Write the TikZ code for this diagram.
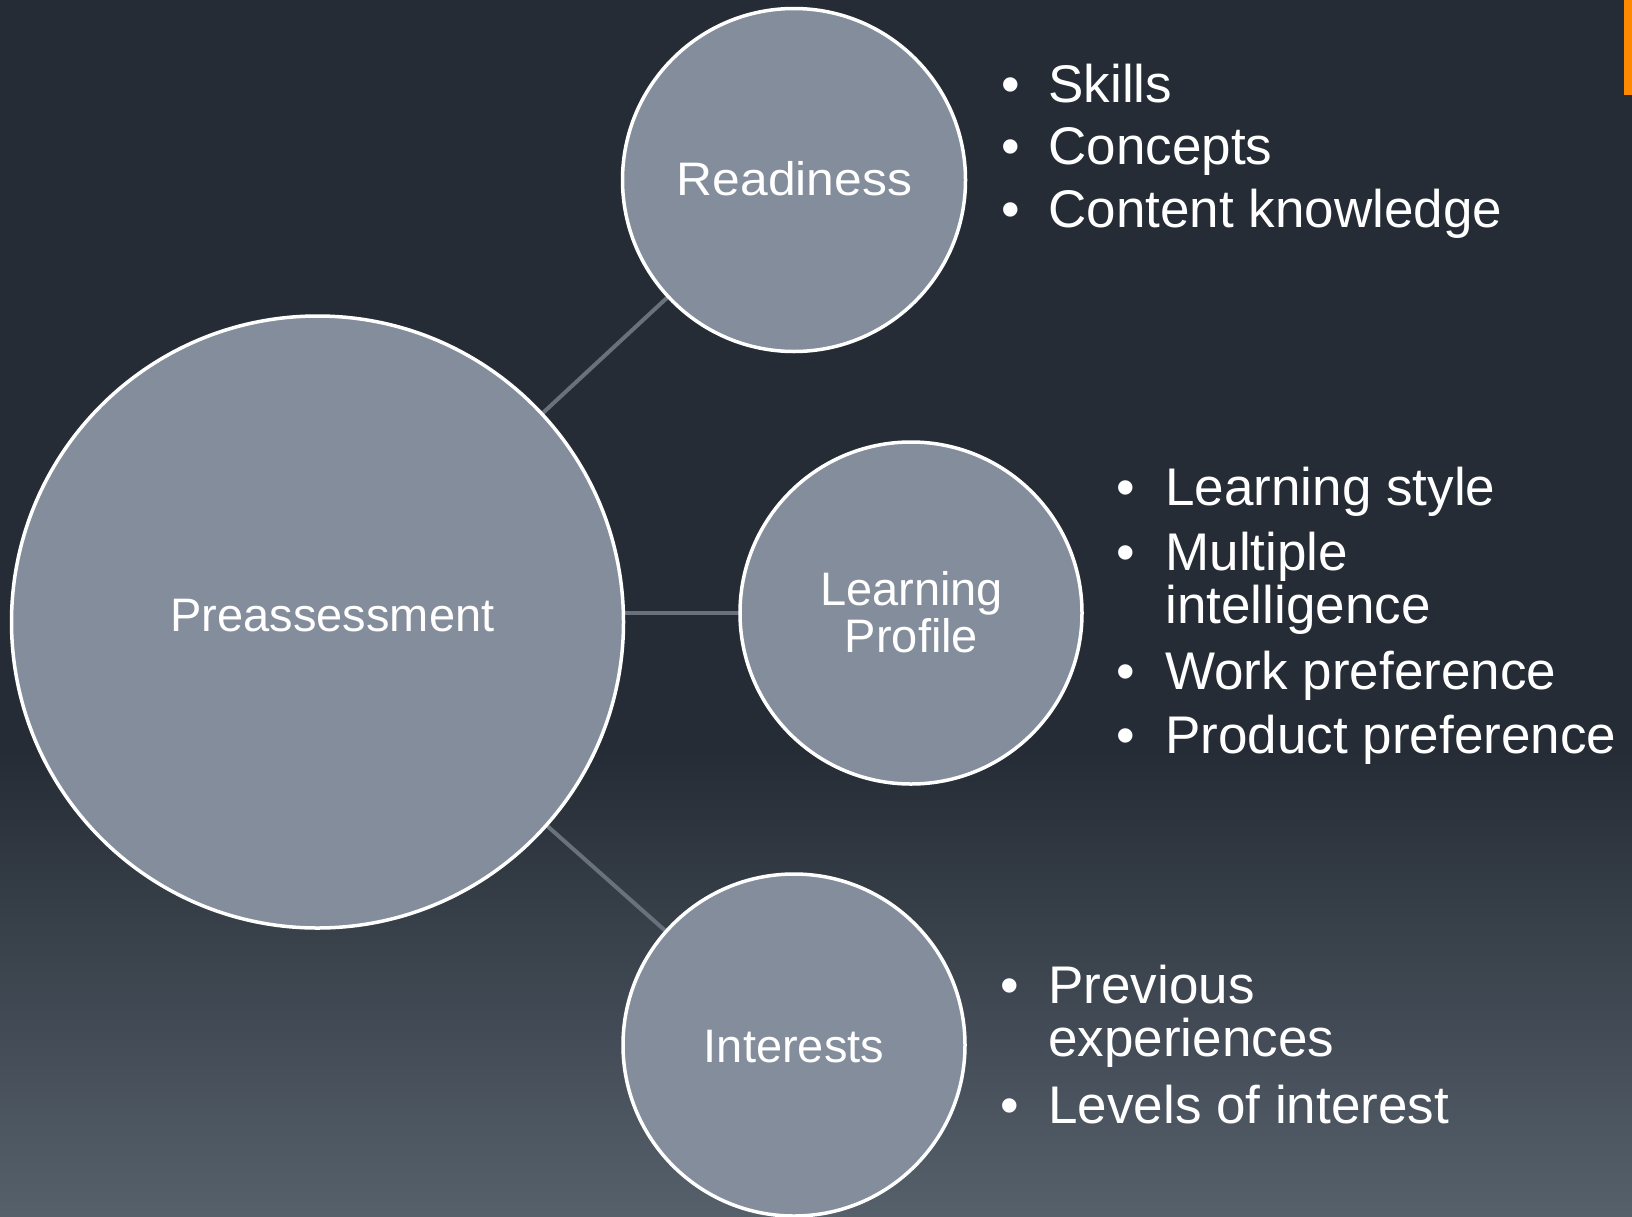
\documentclass[tikz,border=0pt]{standalone}
\usepackage{fontspec}
\setmainfont{Liberation Sans}
\usetikzlibrary{calc}
\definecolor{bgtop}{HTML}{252C35}
\definecolor{bgbot}{HTML}{56606B}
\definecolor{circfill}{HTML}{848D9B}
\definecolor{conn}{HTML}{69717C}
\definecolor{accent}{HTML}{FF8A00}
\pgfdeclarelayer{bg}
\pgfdeclarelayer{links}
\pgfsetlayers{bg,links,main}
\begin{document}
\begin{tikzpicture}[x=0.5pt,y=-0.5pt,
  bubble/.style={circle,draw=white,line width=1.75pt,fill=circfill,inner sep=0pt},
  link/.style={draw=conn,line width=2pt},
  clabel/.style={text=white,font=\fontsize{23.5}{22}\selectfont,anchor=base,inner sep=0pt},
  bitem/.style={text=white,font=\fontsize{26.5}{26.75}\selectfont,anchor=base west,inner sep=0pt},
  bdot/.style={text=white,font=\fontsize{26.5}{26.75}\selectfont,anchor=base,inner sep=0pt}]
\begin{pgfonlayer}{bg}
  \fill[bgtop] (0,0) rectangle (1632,1216);
  \shade[top color=bgtop,bottom color=bgbot] (0,750) rectangle (1632,1216);
  \fill[accent] (1624,0) rectangle (1632,95);
\end{pgfonlayer}
\useasboundingbox (0,0) rectangle (1632,1216);

% circles
\node[bubble,minimum size=306pt] (pre) at (317.5,622) {};
\node[bubble,minimum size=171.5pt] (rd) at (794,180) {};
\node[bubble,minimum size=171pt] (lp) at (911,613) {};
\node[bubble,minimum size=171pt] (int) at (794,1045) {};

% labels
\node[clabel] (prelab) at (332.5,631) {Preassessment};
\node[clabel] (rdlab) at (794.5,195) {\scalebox{1.06}[1]{Readiness}};
\node[clabel] (lplab1) at (911.5,605) {Learning};
\node[clabel] (lplab2) at (911.5,652) {Profile};
\node[clabel] (intlab) at (794,1062) {Interests};

% connectors
\begin{pgfonlayer}{links}
  \draw[link] (pre.center) -- (rd.center);
  \draw[link] (pre.center |- lp.center) -- (lp.center);
  \draw[link] (pre.center) -- (int.center);
\end{pgfonlayer}

% Readiness list
\node[bdot] (rb1) at (1011,102) {•};
\node[bitem] (ri1) at (1048,102) {Skills};
\node[bdot] (rb2) at (1011,164.5) {•};
\node[bitem] (ri2) at (1048,164.5) {Concepts};
\node[bdot] (rb3) at (1011,227) {•};
\node[bitem] (ri3) at (1048,227) {Content knowledge};

% Learning profile list
\node[bdot] (lb1) at (1126,505) {•};
\node[bitem] (li1) at (1165,505) {Learning style};
\node[bdot] (lb2) at (1126,570) {•};
\node[bitem] (li2) at (1165,570) {\parbox[t]{8cm}{Multiple\\intelligence}};
\node[bdot] (lb3) at (1126,689) {•};
\node[bitem] (li3) at (1165,689) {Work preference};
\node[bdot] (lb4) at (1126,753) {•};
\node[bitem] (li4) at (1165,753) {Product preference};

% Interests list
\node[bdot] (ib1) at (1010,1003) {•};
\node[bitem] (ii1) at (1048,1003) {\parbox[t]{8cm}{Previous\\experiences}};
\node[bdot] (ib2) at (1010,1123) {•};
\node[bitem] (ii2) at (1048,1123) {Levels of interest};
\end{tikzpicture}
\end{document}
